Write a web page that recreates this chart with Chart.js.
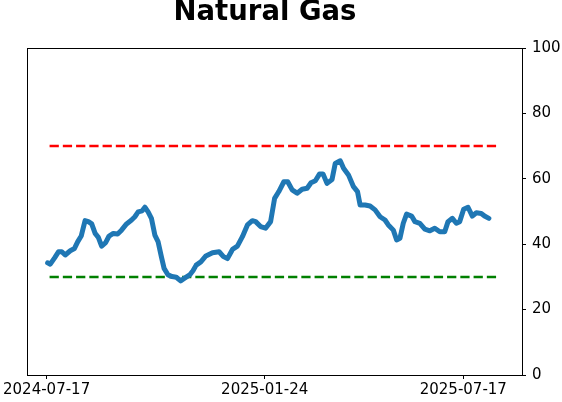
<!DOCTYPE html>
<html>
<head>
<meta charset="utf-8">
<script src="https://cdn.jsdelivr.net/npm/chart.js@4"></script>
<style>
  html, body { margin: 0; padding: 0; background: #fff; }
  #wrap { width: 562px; height: 402px; }
</style>
</head>
<body>
<div id="wrap"><canvas id="myChart" width="562" height="402"></canvas></div>
<script>
// days since 2024-07-17 and indicator value
const days = [0.9, 3.2, 7.0, 10.5, 13.3, 16.3, 20.7, 24.4, 27.3, 30.3, 33.7, 36.6, 39.5, 42.5, 45.3, 48.2,
    51.7, 54.7, 58.4, 62.2, 65.6, 70.0, 74.4, 77.3, 80.2, 83.7, 86.1, 88.9, 91.8, 94.8, 97.6, 100.5,
    102.9, 106.4, 109.9, 113.6, 117.4, 120.9, 125.3, 128.2, 131.0, 135.1, 139.5, 145.3, 151.1, 154.9,
    158.4, 162.8, 167.1, 171.5, 175.9, 180.2, 183.1, 187.4, 191.8, 196.2, 199.7, 203.4, 207.8, 211.2,
    215.1, 219.4, 223.8, 228.2, 231.6, 235.4, 239.1, 242.1, 245.6, 250.0, 252.8, 257.2, 260.1, 264.4,
    268.8, 272.3, 274.6, 279.0, 283.3, 287.7, 292.1, 296.4, 299.3, 303.7, 306.6, 309.5, 312.4, 315.3,
    319.7, 322.6, 326.9, 331.3, 335.7, 340.0, 344.4, 348.7, 351.6, 355.4, 358.9, 361.8, 365.3, 369.1,
    372.9, 376.4, 380.7, 383.6, 387.4]
const values = [34.3, 33.9, 35.8, 37.7, 37.7, 36.7, 38.0, 38.7, 40.8, 42.5, 47.2, 46.9, 46.2, 43.3, 42.1, 39.4,
    40.5, 42.5, 43.3, 43.1, 44.3, 46.2, 47.4, 48.4, 49.9, 50.2, 51.3, 49.9, 47.9, 42.8, 40.8, 36.2,
    32.6, 30.6, 30.1, 29.9, 28.8, 29.6, 30.6, 31.9, 33.6, 34.6, 36.4, 37.4, 37.7, 36.2,
    35.6, 38.4, 39.4, 42.3, 45.9, 47.2, 46.9, 45.4, 44.9, 46.9, 54.0, 56.1, 59.1, 59.1,
    56.6, 55.6, 56.8, 57.1, 58.8, 59.4, 61.5, 61.5, 58.6, 59.8, 64.7, 65.5, 63.2, 61.2,
    57.6, 56.1, 52.0, 52.0, 51.7, 50.5, 48.4, 47.4, 45.9, 44.3, 41.3, 41.8, 46.4, 49.2,
    48.6, 46.9, 46.4, 44.6, 44.1, 44.9, 43.8, 43.8, 46.9, 47.9, 46.4, 46.9, 50.7, 51.3,
    48.6, 49.6, 49.4, 48.6, 47.9]

const upperLevel = 70
const lowerLevel = 30
const levelDays = [2.6, 396.7]

const tickDays = [0, 191, 365]
const tickLabels = ['2024-07-17', '2025-01-24', '2025-07-17']

const FONT = "'DejaVu Sans', sans-serif"

const frame = {
    id: 'frame',
    afterDraw(chart) {
        const a = chart.chartArea
        const ctx = chart.ctx
        ctx.save()
        ctx.strokeStyle = '#000'
        ctx.lineWidth = 1
        ctx.strokeRect(Math.round(a.left) + 0.5, Math.round(a.top) + 0.5,
            Math.round(a.right - a.left), Math.round(a.bottom - a.top))
        ctx.fillStyle = '#000'
        ctx.font = "bold 27.5px " + FONT
        ctx.textAlign = 'center'
        ctx.textBaseline = 'middle'
        ctx.fillText('Natural Gas', 265, 13)
        ctx.restore()
    }
}

const points = days.map((d, i) => ({ x: d, y: values[i] }))

new Chart(document.getElementById('myChart'), {
    type: 'line',
    data: {
        datasets: [{
            data: points,
            borderColor: '#1f77b4',
            borderWidth: 5,
            pointRadius: 0,
            borderCapStyle: 'round',
            borderJoinStyle: 'round',
            tension: 0
        }, {
            data: levelDays.map(d => ({ x: d, y: upperLevel })),
            borderColor: '#ff0000',
            borderWidth: 2.5,
            borderDash: [9.25, 4],
            pointRadius: 0
        }, {
            data: levelDays.map(d => ({ x: d, y: lowerLevel })),
            borderColor: '#008000',
            borderWidth: 2.5,
            borderDash: [9.25, 4],
            pointRadius: 0
        }]
    },
    options: {
        responsive: false,
        animation: false,
        devicePixelRatio: 1,
        layout: { padding: { top: 48, left: 26, right: 0, bottom: 0 } },
        plugins: { legend: { display: false }, title: { display: false }, tooltip: { enabled: false } },
        scales: {
            x: {
                type: 'linear',
                min: -17.1,
                max: 416.4,
                afterBuildTicks: (s) => { s.ticks = tickDays.map(v => ({ value: v })) },
                afterFit: (s) => { s.height = 27 },
                grid: { drawOnChartArea: false, drawTicks: true, tickLength: 4, color: '#000' },
                border: { display: true, color: '#000' },
                ticks: {
                    color: '#000', padding: 2, maxRotation: 0, autoSkip: false,
                    font: { family: FONT, size: 15 },
                    callback: (v) => tickLabels[tickDays.indexOf(v)]
                }
            },
            y: {
                position: 'right',
                min: 0,
                max: 100,
                afterFit: (s) => { s.width = 40 },
                grid: { drawOnChartArea: false, drawTicks: true, tickLength: 4, color: '#000' },
                border: { display: true, color: '#000' },
                ticks: { stepSize: 20, color: '#000', padding: 6, font: { family: FONT, size: 15 } }
            }
        }
    },
    plugins: [frame]
})
</script>
</body>
</html>
